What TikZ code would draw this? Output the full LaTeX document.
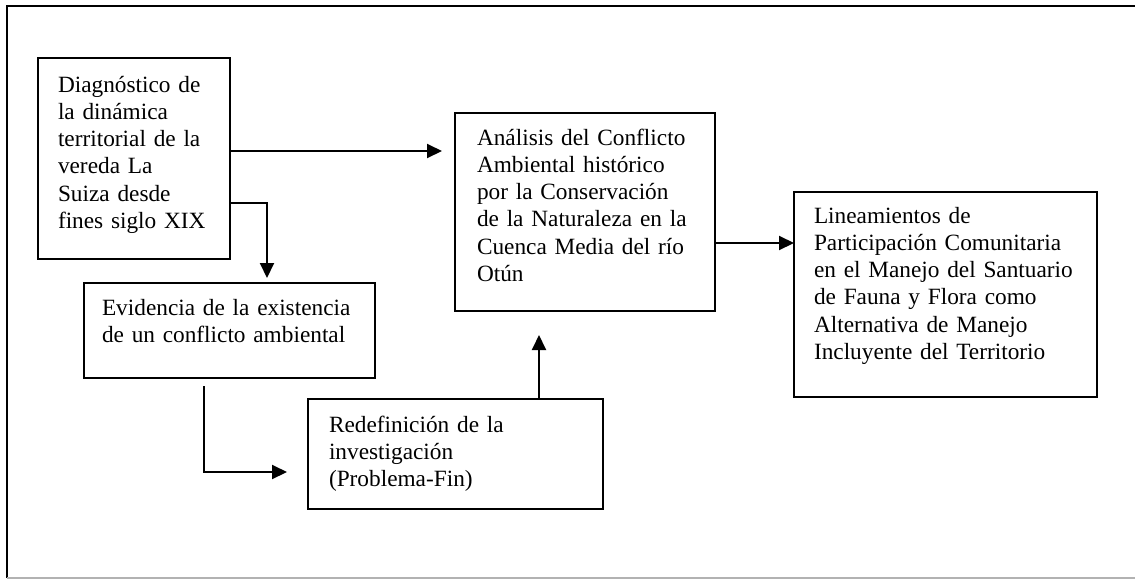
\documentclass[tikz,border=0pt]{standalone}
\usepackage{fontspec}
\setmainfont{Liberation Serif}
\usetikzlibrary{arrows.meta}

\begin{document}
\begin{tikzpicture}[x=1pt, y=-1pt,
	caja/.style={draw, line width=2pt, anchor=north west, outer sep=0pt, align=left, inner ysep=0pt, font=\fontsize{23.3}{27.3}\selectfont},
	flecha/.style={line width=2pt, -{Triangle[length=15pt, width=14pt]}}]
	\useasboundingbox (0,0) rectangle (1135,579);
	\draw [line width=2pt] (1135,6) -- (7,6) -- (7,578);
	\draw [gray!60, line width=1.5pt] (7,578) -- (1135,578);
	\node [caja, inner xsep=20pt, text width=152pt, text height=34pt, text depth=167pt] (diag) at (38,58)
		{Diagnóstico de\\la dinámica\\territorial de la\\vereda La\\Suiza desde\\fines siglo XIX};
	\node [caja, inner xsep=22pt, text width=216pt, text height=32pt, text depth=166pt] (anal) at (455,113)
		{Análisis del Conflicto\\Ambiental histórico\\por la Conservación\\de la Naturaleza en la\\Cuenca Media del río\\Otún};
	\node [caja, inner xsep=18pt, text width=255pt, text height=32pt, text depth=63pt] (evid) at (84,283)
		{Evidencia de la existencia\\de un conflicto ambiental};
	\node [caja, inner xsep=21pt, text width=253pt, text height=33pt, text depth=77pt] (redef) at (308,399)
		{Redefinición de la\\investigación\\(Problema-Fin)};
	\node [caja, inner xsep=20pt, text width=263pt, text height=31pt, text depth=174pt] (linea) at (794,192)
		{Lineamientos de\\Participación Comunitaria\\en el Manejo del Santuario\\de Fauna y Flora como\\Alternativa de Manejo\\Incluyente del Territorio};
	\draw [flecha, shorten >=13pt] (diag.east |- 0,151) -- (anal.west |- 0,151);
	\draw [flecha, shorten >=5pt] (diag.east |- 0,203) -| (evid.north -| 267,0);
	\draw [flecha, shorten <=8pt, shorten >=21pt] (evid.south -| 204,0) |- (redef.west |- 0,472);
	\draw [flecha, shorten >=24pt] (redef.north -| 539,0) -- (anal.south -| 539,0);
	\draw [flecha] (anal.east |- 0,243) -- (linea.west |- 0,243);
\end{tikzpicture}
\end{document}
